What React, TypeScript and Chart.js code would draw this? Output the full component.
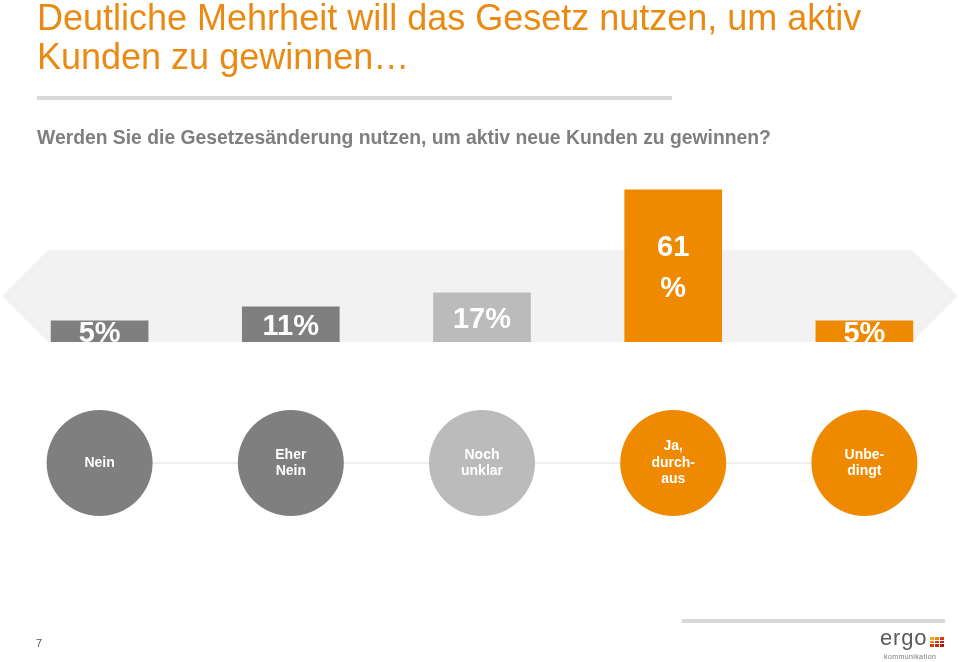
import React, { useEffect, useRef } from "react";
import { Chart, registerables } from "chart.js";

Chart.register(...registerables);

const categories = ["Nein", "Eher Nein", "Noch unklar", "Ja, durchaus", "Unbedingt"];
const circleLines = [["Nein"], ["Eher", "Nein"], ["Noch", "unklar"], ["Ja,", "durch-", "aus"], ["Unbe-", "dingt"]];
const shares = [5, 11, 17, 61, 5];
const valueLabels = [["5%"], ["11%"], ["17%"], ["61", "%"], ["5%"]];

const GREY = "#7f7f7f";
const LIGHT = "#bbbbbb";
const ORANGE = "#ef8a00";
const colors = [GREY, GREY, LIGHT, ORANGE, ORANGE];

const decoPlugin = {
  id: "deco",
  beforeDatasetsDraw(chart: any) {
    const { ctx, chartArea } = chart;
    const bottom = chartArea.bottom;
    const top = bottom - 92;
    const mid = (top + bottom) / 2;
    ctx.save();
    ctx.fillStyle = "#f2f2f2";
    ctx.beginPath();
    ctx.moveTo(chartArea.left + 44, top);
    ctx.lineTo(chartArea.right - 48, top);
    ctx.lineTo(chartArea.right - 2, mid);
    ctx.lineTo(chartArea.right - 48, bottom);
    ctx.lineTo(chartArea.left + 44, bottom);
    ctx.lineTo(chartArea.left - 2, mid);
    ctx.closePath();
    ctx.fill();
    ctx.restore();
  },
  afterDatasetsDraw(chart: any) {
    const { ctx, chartArea } = chart;
    const meta = chart.getDatasetMeta(0);
    ctx.save();
    // value labels inside bars, clipped to the bar
    meta.data.forEach((bar: any, i: number) => {
      const { x, y, base, width } = bar.getProps(["x", "y", "base", "width"], true);
      ctx.save();
      ctx.beginPath();
      ctx.rect(x - width / 2, y, width, base - y);
      ctx.clip();
      ctx.fillStyle = "#ffffff";
      ctx.font = "bold 29px 'Liberation Sans', Arial, sans-serif";
      ctx.textAlign = "center";
      ctx.textBaseline = "middle";
      const lines = valueLabels[i];
      const lh = 41;
      const cy = (y + base) / 2 + 3;
      lines.forEach((t, k) => {
        ctx.fillText(t, x, cy + (k - (lines.length - 1) / 2) * lh);
      });
      ctx.restore();
    });
    // circles row
    const cyc = chartArea.bottom + 121;
    const r = 53;
    const xs = meta.data.map((b: any) => b.x);
    ctx.strokeStyle = "#dedede";
    ctx.lineWidth = 1;
    ctx.beginPath();
    ctx.moveTo(xs[0], cyc);
    ctx.lineTo(xs[xs.length - 1], cyc);
    ctx.stroke();
    xs.forEach((x: number, i: number) => {
      ctx.fillStyle = colors[i];
      ctx.beginPath();
      ctx.arc(x, cyc, r, 0, Math.PI * 2);
      ctx.fill();
      ctx.fillStyle = "#ffffff";
      ctx.font = "bold 14px 'Liberation Sans', Arial, sans-serif";
      ctx.textAlign = "center";
      ctx.textBaseline = "middle";
      const lines = circleLines[i];
      const lh = 16.5;
      lines.forEach((t, k) => {
        ctx.fillText(t, x, cyc + (k - (lines.length - 1) / 2) * lh);
      });
    });
    ctx.restore();
  },
};

export default function App() {
  const ref = useRef<HTMLCanvasElement | null>(null);
  useEffect(() => {
    if (!ref.current) return;
    const chart = new Chart(ref.current, {
      type: "bar",
      data: {
        labels: categories,
        datasets: [
          {
            data: shares,
            backgroundColor: colors,
            base: -4,
            barThickness: 97,
            borderWidth: 0,
          } as any,
        ],
      },
      options: {
        animation: false,
        responsive: false,
        maintainAspectRatio: false,
        layout: { padding: { left: 4, right: 0, top: 178, bottom: 320 } },
        plugins: { legend: { display: false }, tooltip: { enabled: false } },
        scales: {
          x: { display: false, offset: true },
          y: { display: false, min: -4, max: 66 },
        },
      },
      plugins: [decoPlugin],
    });
    return () => chart.destroy();
  }, []);

  const font = "'Liberation Sans', Arial, sans-serif";
  return (
    <div style={{ position: "absolute", left: 0, top: 0, width: 960, height: 662, background: "#fff", overflow: "hidden" }}>
      <canvas ref={ref} width={960} height={662} style={{ position: "absolute", left: 0, top: 0, width: 960, height: 662 }} />
      <div
        style={{
          position: "absolute",
          left: 37,
          top: -2,
          fontFamily: font,
          fontSize: 36,
          lineHeight: "39px",
          color: "#eb8a12",
          whiteSpace: "nowrap",
        }}
      >
        <div>Deutliche Mehrheit will das Gesetz nutzen, um aktiv</div>
        <div>Kunden zu gewinnen…</div>
      </div>
      <div style={{ position: "absolute", left: 37, top: 96, width: 635, height: 4, background: "#d9d9d9" }} />
      <div
        style={{
          position: "absolute",
          left: 37,
          top: 126,
          fontFamily: font,
          fontWeight: "bold",
          fontSize: 20,
          color: "#7f7f7f",
          whiteSpace: "nowrap",
          transform: "scaleX(0.966)",
          transformOrigin: "0 0",
        }}
      >
        Werden Sie die Gesetzesänderung nutzen, um aktiv neue Kunden zu gewinnen?
      </div>
      <div style={{ position: "absolute", left: 682, top: 619, width: 263, height: 4, background: "#d9d9d9" }} />
      <div style={{ position: "absolute", left: 36, top: 637, fontFamily: font, fontSize: 11, color: "#555" }}>7</div>
      <div
        style={{
          position: "absolute",
          left: 880,
          top: 627,
          fontFamily: font,
          fontSize: 22,
          lineHeight: "22px",
          color: "#5a5a5a",
          letterSpacing: 0.8,
        }}
      >
        ergo
      </div>
      <div style={{ position: "absolute", left: 930, top: 637, width: 14, height: 10, display: "grid", gridTemplateColumns: "repeat(3, 4px)", gap: 1 }}>
        {["#f5a623", "#ef8a00", "#d9381e", "#ef8a00", "#d9381e", "#c0271a", "#d9381e", "#c0271a", "#a81c14"].map((c, i) => (
          <div key={i} style={{ width: 4, height: 2.7, background: c }} />
        ))}
      </div>
      <div
        style={{
          position: "absolute",
          left: 884,
          top: 653,
          fontFamily: font,
          fontSize: 7,
          lineHeight: "7px",
          color: "#777",
          letterSpacing: 0.4,
        }}
      >
        kommunikation
      </div>
    </div>
  );
}
